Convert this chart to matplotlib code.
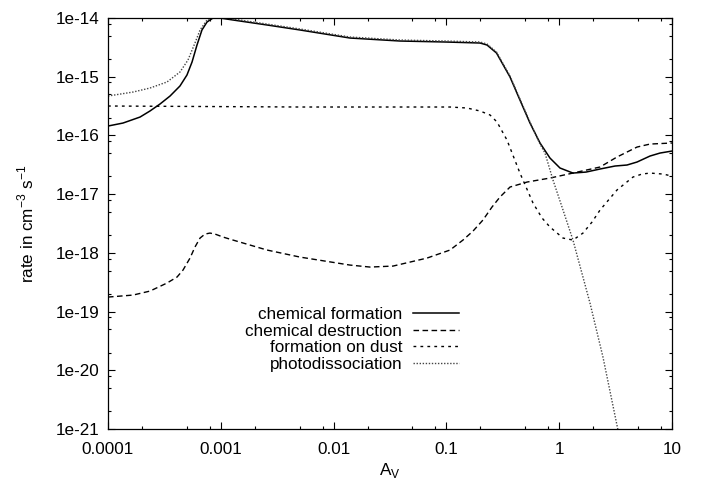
import numpy as np
import matplotlib
matplotlib.use("Agg")
import matplotlib.pyplot as plt
from matplotlib.ticker import FixedLocator, FixedFormatter, LogLocator, NullFormatter

# log10(A_V) and log10(rate)
form_x = [-4.000, -3.867, -3.716, -3.628, -3.539, -3.450, -3.362, -3.300, -3.255, -3.211,
          -3.167, -3.122, -3.069, -3.007, -2.892, -2.590, -2.298, -1.855, -1.411, -1.004,
          -0.702, -0.640, -0.556, -0.436, -0.348, -0.259, -0.170, -0.082, 0.007, 0.122,
          0.238, 0.362, 0.495, 0.601, 0.690, 0.805, 0.894, 1.000]
form_y = [-15.840, -15.789, -15.687, -15.584, -15.465, -15.329, -15.158, -14.971, -14.750, -14.460,
          -14.204, -14.068, -14.000, -14.000, -14.034, -14.119, -14.204, -14.341, -14.392, -14.409,
          -14.426, -14.460, -14.596, -15.005, -15.397, -15.789, -16.129, -16.385, -16.555, -16.641,
          -16.624, -16.572, -16.521, -16.504, -16.453, -16.351, -16.300, -16.266]

dest_x = [-4.000, -3.778, -3.628, -3.477, -3.388, -3.335, -3.273, -3.229, -3.184, -3.140,
          -3.096, -3.051, -2.980, -2.892, -2.590, -2.298, -1.855, -1.677, -1.473, -1.172,
          -0.968, -0.853, -0.764, -0.676, -0.596, -0.525, -0.436, -0.285, -0.082, 0.122,
          0.362, 0.512, 0.690, 0.805, 1.000]
dest_y = [-18.753, -18.719, -18.651, -18.514, -18.412, -18.293, -18.089, -17.901, -17.748, -17.680,
          -17.663, -17.680, -17.731, -17.782, -17.952, -18.072, -18.208, -18.242, -18.225, -18.089,
          -17.952, -17.782, -17.629, -17.441, -17.220, -17.049, -16.879, -16.794, -16.726, -16.641,
          -16.538, -16.368, -16.198, -16.147, -16.129]

dust_x = [-4.000, -2.298, -0.968, -0.817, -0.702, -0.613, -0.551, -0.463, -0.348, -0.232,
          -0.152, -0.082, 0.034, 0.122, 0.211, 0.291, 0.362, 0.512, 0.654, 0.734,
          0.805, 0.920, 1.000]
dust_y = [-15.499, -15.516, -15.516, -15.533, -15.584, -15.652, -15.772, -16.078, -16.641, -17.152,
          -17.407, -17.560, -17.748, -17.782, -17.663, -17.475, -17.271, -16.930, -16.709, -16.658,
          -16.641, -16.658, -16.692]

phot_x = [-4.000, -3.778, -3.628, -3.477, -3.362, -3.291, -3.229, -3.184, -3.122, -3.069,
          -3.007, -2.892, -2.298, -1.855, -1.411, -1.004, -0.702, -0.640, -0.556, -0.436,
          -0.348, -0.259, -0.170, -0.126, -0.055, 0.034, 0.122, 0.273, 0.388, 0.512, 0.530]
phot_y = [-15.329, -15.261, -15.193, -15.090, -14.920, -14.716, -14.426, -14.204, -14.034, -13.983,
          -13.983, -14.017, -14.187, -14.324, -14.375, -14.392, -14.409, -14.443, -14.579, -14.988,
          -15.380, -15.772, -16.147, -16.300, -16.760, -17.271, -17.782, -18.855, -19.775, -20.934, -21.100]

x_ticks = [1e-4, 1e-3, 1e-2, 1e-1, 1, 10]
x_labels = ["0.0001", "0.001", "0.01", "0.1", "1", "10"]
y_ticks = [1e-21, 1e-20, 1e-19, 1e-18, 1e-17, 1e-16, 1e-15, 1e-14]
y_labels = ["1e-21", "1e-20", "1e-19", "1e-18", "1e-17", "1e-16", "1e-15", "1e-14"]

plt.rcParams['font.family'] = ['Liberation Sans', 'DejaVu Sans']
plt.rcParams['font.size'] = 12.3

fig = plt.figure(figsize=(7.06, 4.82), dpi=100)
ax = fig.add_axes([108/706, 1-429/482, (672-108)/706, (429-18)/482])

p = lambda a: 10.0 ** np.asarray(a)
ax.plot(p(form_x), p(form_y), color='black', lw=1.1, ls='-', label='chemical formation')
ax.plot(p(dest_x), p(dest_y), color='black', lw=1.0, ls=(0, (4, 2.5)), label='chemical destruction')
ax.plot(p(dust_x), p(dust_y), color='black', lw=1.0, ls=(0, (2, 3)), label='formation on dust')
ax.plot(p(phot_x), p(phot_y), color='#444444', lw=1.0, ls=(0, (1, 1.2)), label='photodissociation')

ax.set_xscale('log')
ax.set_yscale('log')
ax.set_xlim(1e-4, 10)
ax.set_ylim(1e-21, 1e-14)

ax.xaxis.set_major_locator(FixedLocator(x_ticks))
ax.xaxis.set_major_formatter(FixedFormatter(x_labels))
ax.yaxis.set_major_locator(FixedLocator(y_ticks))
ax.yaxis.set_major_formatter(FixedFormatter(y_labels))
ax.xaxis.set_minor_locator(LogLocator(base=10, subs=(2, 5, 8), numticks=20))
ax.yaxis.set_minor_locator(LogLocator(base=10, subs=(2, 5, 8), numticks=20))
ax.xaxis.set_minor_formatter(NullFormatter())
ax.yaxis.set_minor_formatter(NullFormatter())

ax.tick_params(which='both', direction='in', top=True, right=True, width=0.8, colors='black')
ax.tick_params(which='major', length=5, labelsize=12.3)
ax.tick_params(axis='x', which='major', pad=9.5)
ax.tick_params(axis='y', which='major', pad=6)
ax.tick_params(which='minor', length=2.5)
for s in ax.spines.values():
    s.set_linewidth(0.9)

ax.set_xlabel(r'A$_\mathregular{V}$', fontsize=12.3, labelpad=3)
ax.set_ylabel(r'rate in cm$^\mathregular{-3}$ s$^\mathregular{-1}$', fontsize=12.3)
ax.yaxis.set_label_coords(-0.127, 0.5)

leg = ax.legend(loc='upper right', bbox_to_anchor=(0.637, 0.318), frameon=False,
                markerfirst=False, handlelength=2.7, handletextpad=0.6,
                labelspacing=0.1, borderpad=0, fontsize=12.3)

fig.savefig('out.png', dpi=100)
